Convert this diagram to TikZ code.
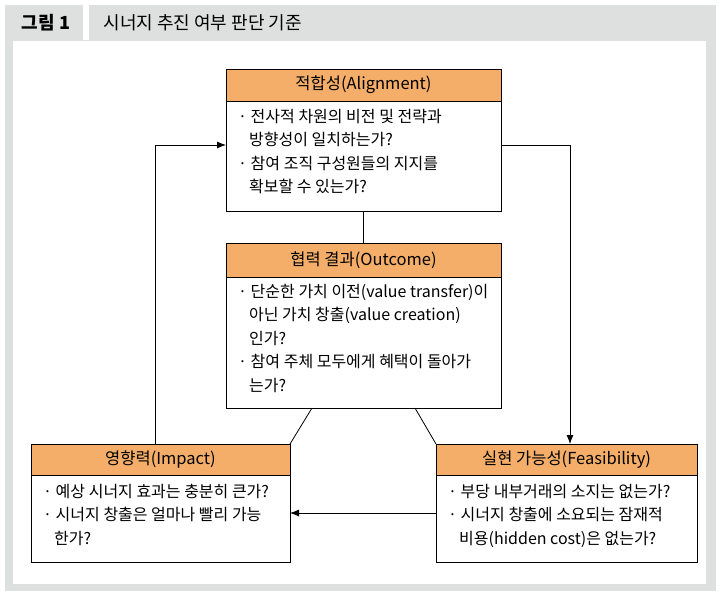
\documentclass[tikz,border=0pt]{standalone}
\usepackage{fontspec}
\setmainfont{Noto Sans CJK KR}
\usetikzlibrary{arrows.meta}
\definecolor{frame}{HTML}{DEDFDF}
\definecolor{hdr}{HTML}{F4AE69}
\begin{document}
\begin{tikzpicture}[x=1pt,y=-1pt,
  hd/.style={draw=black,fill=hdr,line width=0.9pt},
  bd/.style={draw=black,fill=white,line width=0.9pt},
  ht/.style={font=\fontsize{16.5}{18}\selectfont},
  bt/.style={anchor=north west,align=left,inner sep=0pt,font=\fontsize{16}{23.5}\selectfont},
  ln/.style={line width=0.8pt},
  ar/.style={line width=0.8pt,-{Latex[length=9pt,width=7pt]}}]
\useasboundingbox (0,0) rectangle (721,598);
\fill[frame] (5,5) rectangle (716,591);
\fill[white] (83,5) rectangle (89,40);
\fill[white] (13,41) rectangle (706,584);
\node[font=\fontsize{18}{20}\selectfont\bfseries] (fig) at (46,23) {그림 1};
\node[anchor=west,font=\fontsize{18}{20}\selectfont] (title) at (100,23) {시너지 추진 여부 판단 기준};
% Alignment
\draw[bd] (226,101) rectangle (501,211);
\draw[hd] (226,69) rectangle (501,101);
\node[ht] (ah) at (363.5,85) {적합성(Alignment)};
\node[bt] (ab) at (238,109) {· 전사적 차원의 비전 및 전략과\\\hspace{11pt}방향성이 일치하는가?\\· 참여 조직 구성원들의 지지를\\\hspace{11pt}확보할 수 있는가?};
% Outcome
\draw[bd] (226,277) rectangle (501,408);
\draw[hd] (226,243) rectangle (501,277);
\node[ht] (oh) at (363.5,260) {협력 결과(Outcome)};
\node[bt] (ob) at (238,284) {· 단순한 가치 이전(value transfer)이\\\hspace{11pt}아닌 가치 창출(value creation)\\\hspace{11pt}인가?\\· 참여 주체 모두에게 혜택이 돌아가\\\hspace{11pt}는가?};
% Impact
\draw[bd] (31,475) rectangle (290,562);
\draw[hd] (31,444) rectangle (290,475);
\node[ht] (ih) at (160.5,460) {영향력(Impact)};
\node[bt] (ib) at (43,484) {· 예상 시너지 효과는 충분히 큰가?\\· 시너지 창출은 얼마나 빨리 가능\\\hspace{11pt}한가?};
% Feasibility
\draw[bd] (436,475) rectangle (697,562);
\draw[hd] (436,444) rectangle (697,475);
\node[ht] (fh) at (566.5,460) {실현 가능성(Feasibility)};
\node[bt] (fb) at (448,484) {· 부당 내부거래의 소지는 없는가?\\· 시너지 창출에 소요되는 잠재적\\\hspace{11pt}비용(hidden cost)은 없는가?};
% connectors
\coordinate (a1) at (363,211); \coordinate (o1) at (363,243);
\draw[ln] (a1) -- (o1);
\coordinate (o2) at (312,408); \coordinate (i2) at (290,444);
\draw[ln] (o2) -- (i2);
\coordinate (o3) at (415,408); \coordinate (f3) at (436,444);
\draw[ln] (o3) -- (f3);
\coordinate (it) at (155,444); \coordinate (al) at (226,145);
\draw[ar] (it) |- (al);
\coordinate (arr) at (501,145); \coordinate (ft) at (570,444);
\draw[ar] (arr) -| (ft);
\coordinate (fl) at (436,513); \coordinate (ir) at (290,513);
\draw[ar] (fl) -- (ir);
\end{tikzpicture}
\end{document}
